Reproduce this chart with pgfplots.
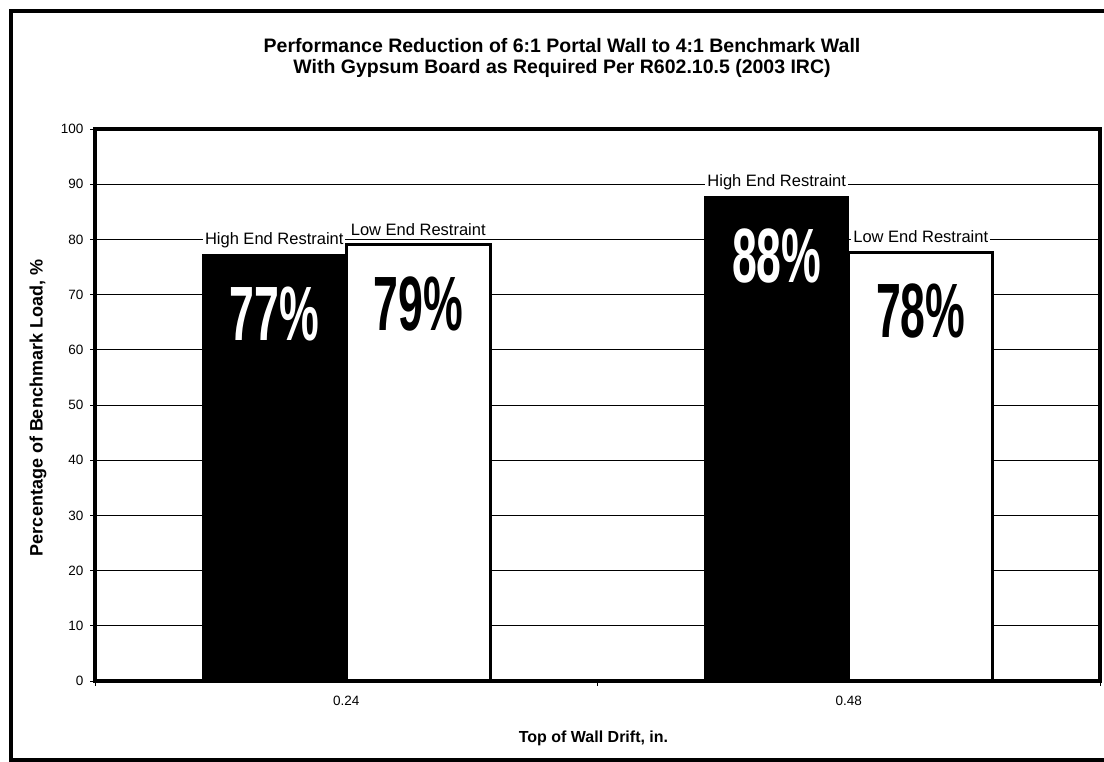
\documentclass[border=0pt]{standalone}
\usepackage{fontspec}
\setmainfont{Liberation Sans}
\usepackage{graphicx}
\usepackage{pgfplots}
\pgfplotsset{compat=1.18}
\begin{document}
\begin{tikzpicture}[x=1pt,y=1pt]
\path[use as bounding box] (0,0) rectangle (1104,762);
\draw[line width=4pt] (11,1.5) rectangle (1130,751);
\begin{axis}[
  at={(95pt,81pt)}, anchor=south west,
  scale only axis, width=1005pt, height=552pt,
  xmin=-0.5, xmax=1.5, ymin=0, ymax=100,
  xtick={0,1}, xticklabels={0.24,0.48},
  major x tick style={draw=none},
  minor xtick={-0.5,0.5,1.5},
  ytick={0,10,...,100},
  tick pos=left,
  ymajorgrids, grid style={black, line width=0.8pt},
  axis line style={line width=4pt},
  tick style={black, line width=0.8pt},
  tick align=outside, major tick length=5pt, minor tick length=5pt,
  /pgf/number format/assume math mode=true,
  ticklabel style={font=\fontsize{13.5}{15}\selectfont},
  xticklabel style={yshift=-7pt},
  yticklabel style={xshift=-3pt},
  title={Performance Reduction of 6:1 Portal Wall to 4:1 Benchmark Wall\\With Gypsum Board as Required Per R602.10.5 (2003 IRC)},
  title style={font=\fontsize{19.5}{21}\selectfont\bfseries, align=center, at={(axis description cs:0.4647,1.117)}, anchor=center},
  xlabel={Top of Wall Drift, in.},
  xlabel style={font=\fontsize{16}{18}\selectfont\bfseries, at={(axis description cs:0.496,-0.1033)}, anchor=center},
  ylabel={Percentage of Benchmark Load, \%},
  ylabel style={font=\fontsize{18}{20}\selectfont\bfseries, at={(axis description cs:-0.0567,0.4946)}, anchor=center},
]
% High End Restraint bars
\addplot[ybar, bar width=0.287, bar shift=-0.1435, fill=black, draw=black, line width=1pt,
  point meta=explicit symbolic,
  nodes near coords={\scalebox{0.58}[1]{\pgfplotspointmeta}},
  every node near coord/.append style={anchor=center, xshift=-72pt, yshift=-59pt, text=white,
    font=\fontsize{77}{77}\selectfont\bfseries}]
  coordinates {(0,77.2) [77\%] (1,87.7) [88\%]};
% Low End Restraint bars
\addplot[ybar, bar width=0.287, bar shift=0.1435, fill=white, draw=black, line width=3pt,
  point meta=explicit symbolic,
  nodes near coords={\scalebox{0.58}[1]{\pgfplotspointmeta}},
  every node near coord/.append style={anchor=center, xshift=72pt, yshift=-59pt, text=black,
    font=\fontsize{77}{77}\selectfont\bfseries}]
  coordinates {(0,79.0) [79\%] (1,77.7) [78\%]};
% series name labels
\addplot[ybar, bar width=0.287, bar shift=-0.1435, draw=none, fill=none, forget plot,
  nodes near coords={High End Restraint},
  every node near coord/.append style={anchor=center, xshift=-72pt, yshift=15pt, fill=white, inner sep=2pt,
    text=black, font=\fontsize{16.5}{18}\selectfont}]
  coordinates {(0,77.2) (1,87.7)};
\addplot[ybar, bar width=0.287, bar shift=0.1435, draw=none, fill=none, forget plot,
  nodes near coords={Low End Restraint},
  every node near coord/.append style={anchor=center, xshift=72pt, yshift=15pt, fill=white, inner sep=2pt,
    text=black, font=\fontsize{16.5}{18}\selectfont}]
  coordinates {(0,79.0) (1,77.7)};
\draw[line width=4pt] (rel axis cs:0,0) rectangle (rel axis cs:1,1);
\end{axis}
\end{tikzpicture}
\end{document}
